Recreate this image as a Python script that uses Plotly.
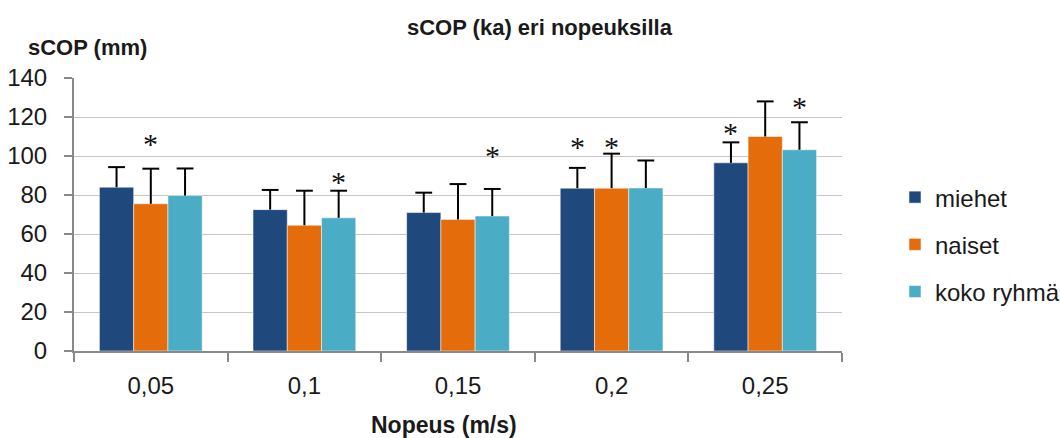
import plotly.graph_objects as go

categories = ["0,05", "0,1", "0,15", "0,2", "0,25"]
series_names = ["miehet", "naiset", "koko ryhmä"]
miehet = [84.0, 72.5, 71.0, 83.5, 96.5]
naiset = [75.5, 64.5, 67.5, 83.5, 110.0]
koko = [79.7, 68.3, 69.2, 83.6, 103.2]
miehet_sd = [10.3, 10.1, 10.2, 10.4, 10.5]
naiset_sd = [18.0, 17.7, 18.1, 17.7, 18.0]
koko_sd = [13.9, 13.9, 13.9, 14.1, 14.1]
# significance markers: category index, series index, y position
star_cat = [0, 1, 2, 3, 3, 4, 4]
star_series = [1, 2, 2, 0, 1, 0, 2]
star_y = [108, 88.5, 102, 106.3, 106.5, 113.5, 127]

colors = ["#1F497D", "#E46C0A", "#4BACC6"]
values = [miehet, naiset, koko]
sds = [miehet_sd, naiset_sd, koko_sd]

bar_w = 0.223
offsets = [-1.5 * bar_w, -0.5 * bar_w, 0.5 * bar_w]
idx = list(range(len(categories)))

fig = go.Figure()
for s in range(3):
    fig.add_trace(go.Bar(
        x=idx, y=values[s], name=series_names[s],
        width=bar_w, offset=offsets[s],
        marker=dict(color=colors[s], line=dict(color="rgba(255,255,255,0.5)", width=1)),
        error_y=dict(type="data", symmetric=False, array=sds[s],
                     arrayminus=[0] * len(idx), width=0, thickness=2, color="black"),
        legendgroup=series_names[s],
    ))
for s in range(3):
    cx = [i + offsets[s] + bar_w / 2 for i in idx]
    tops = [v + e for v, e in zip(values[s], sds[s])]
    fig.add_trace(go.Scatter(
        x=cx, y=tops, mode="markers", showlegend=False, hoverinfo="skip",
        marker=dict(symbol="line-ew", size=12, line=dict(color="black", width=2)),
    ))

sx = [c + offsets[s] + bar_w / 2 for c, s in zip(star_cat, star_series)]
star_annotations = [
    dict(x=x, y=y, xref="x", yref="y", text="*", showarrow=False,
         xanchor="center", yanchor="middle", yshift=-3,
         font=dict(family="Liberation Serif", size=30, color="#111"))
    for x, y in zip(sx, star_y)
]

fig.update_layout(
    width=1060, height=438,
    margin=dict(l=74, r=218, t=78, b=87, autoexpand=False),
    paper_bgcolor="white", plot_bgcolor="white",
    barmode="overlay",
    font=dict(family="Liberation Sans", size=24, color="#1a1a1a"),
    showlegend=True,
    legend=dict(x=1.069, xanchor="left", y=0.39, yanchor="middle",
                font=dict(size=24), tracegroupgap=13, traceorder="grouped"),
    xaxis=dict(range=[-0.5, 4.5], tickmode="array", tickvals=idx, ticktext=categories,
               showgrid=False, ticks="", showline=True, linecolor="#898989", linewidth=2,
               zeroline=False,
               minor=dict(tickmode="linear", tick0=-0.5, dtick=1, ticks="outside",
                          ticklen=9, tickwidth=2, tickcolor="#898989", showgrid=False),
               tickfont=dict(size=24), ticklabelstandoff=12),
    yaxis=dict(range=[0, 140], dtick=20, showgrid=True, gridcolor="#c6c6c6", gridwidth=1,
               ticks="outside", ticklen=8, tickwidth=2, tickcolor="#898989",
               showline=True, linecolor="#898989", linewidth=2, zeroline=False,
               tickfont=dict(size=24), ticklabelstandoff=12),
    annotations=[
        dict(text="<b>sCOP (ka) eri nopeuksilla</b>", xref="paper", yref="paper",
             x=(540 - 74) / 768, y=1 + (78 - 28) / 273, xanchor="center", yanchor="middle",
             showarrow=False, font=dict(size=22)),
        dict(text="<b>sCOP (mm)</b>", xref="paper", yref="paper",
             x=(87 - 74) / 768, y=1 + (78 - 48) / 273, xanchor="center", yanchor="middle",
             showarrow=False, font=dict(size=22)),
        dict(text="<b>Nopeus (m/s)</b>", xref="paper", yref="paper",
             x=(444 - 74) / 768, y=-(425 - 351) / 273, xanchor="center", yanchor="middle",
             showarrow=False, font=dict(size=23)),
    ] + star_annotations,
)

fig.write_html("out.html")
